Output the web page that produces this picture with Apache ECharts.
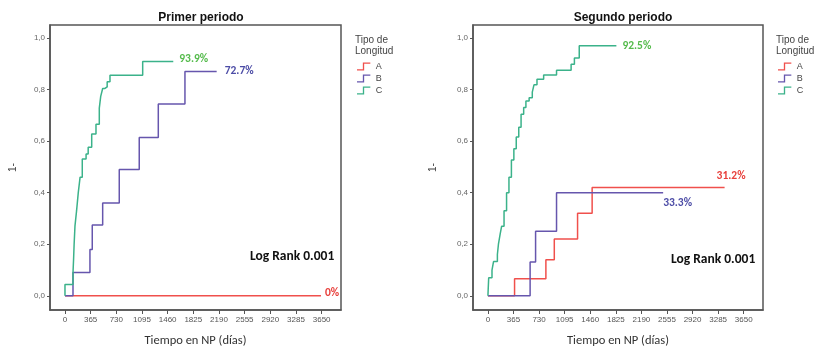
<!DOCTYPE html>
<html><head><meta charset="utf-8">
<script src="https://cdn.jsdelivr.net/npm/echarts@6/dist/echarts.min.js"></script>
<style>html,body{margin:0;padding:0;background:#fff}#c{width:839px;height:352px}</style>
</head><body><div id="c"></div>
<script>
// ---- data (time in days, cumulative proportion) ----
const xTicks = [0,365,730,1095,1460,1825,2190,2555,2920,3285,3650];
const yTicks = [0,0.2,0.4,0.6,0.8,1.0];
const titles = ['Primer periodo','Segundo periodo'];
const groups = ['A','B','C'];

// Primer periodo
const p1_A = [[0,0],[3640,0]];
const p1_B = [[0,0],[114,0.09],[355,0.18],[388,0.275],[536,0.36],[772,0.49],[1056,0.614],[1327,0.744],[1706,0.87],[2157,0.87]];
const p1_C = [[0,0],[0,0.044],[114,0.09],[122,0.14],[130,0.20],[142,0.27],[165,0.33],[189,0.40],[215,0.46],[246,0.53],[300,0.55],[330,0.576],[380,0.627],[441,0.665],[488,0.728],[508,0.773],[536,0.804],[569,0.81],[600,0.83],[640,0.855],[1105,0.908],[1540,0.908]];
const p1_labels = ['0%','72.7%','93.9%'];

// Segundo periodo
const p2_A = [[0,0],[380,0.066],[827,0.14],[947,0.22],[1279,0.32],[1487,0.42],[3377,0.42]];
const p2_B = [[0,0],[602,0.131],[680,0.25],[979,0.40],[2500,0.40]];
const p2_C = [[0,0],[11,0.07],[58,0.10],[80,0.133],[135,0.16],[150,0.20],[175,0.24],[196,0.27],[230,0.33],[266,0.40],[300,0.46],[335,0.527],[370,0.57],[404,0.616],[440,0.654],[473,0.704],[510,0.73],[542,0.755],[588,0.768],[633,0.79],[657,0.818],[700,0.84],[795,0.856],[979,0.875],[1187,0.898],[1234,0.922],[1303,0.97],[1833,0.97]];
const p2_labels = ['31.2%','33.3%','92.5%'];

const xName = 'Tiempo en NP (días)';
const yName = '1-';
const logRank = 'Log Rank 0.001';
const legendTitle = 'Tipo de\nLongitud';

// ---- styling ----
const lineColors = {A:'#f0504c', B:'#6656ad', C:'#3bb28a'};
const labelColors = {A:'#e8403c', B:'#4c4ca6', C:'#55bb4c'};
const FONT = 'Liberation Sans, Arial, sans-serif';
const CAL = 'Carlito, Calibri, Liberation Sans, sans-serif';

const grids = [
  {left:50, top:25, width:291, height:291},
  {left:473, top:25, width:290, height:291}
];

const chart = echarts.init(document.getElementById('c'));
const stepIcon = 'path://M0,8 L7,8 L7,0 L16,0 L16,1.6 L8.6,1.6 L8.6,9.6 L0,9.6 Z';

function xAxis(i){
  return {
    gridIndex:i, type:'value', min:-213, max:3925,
    name:xName, nameLocation:'middle', nameGap:24,
    nameTextStyle:{fontSize:12.5, color:'#333', fontFamily:CAL},
    axisLine:{show:true, onZero:false, lineStyle:{color:'#555', width:1.5}},
    axisTick:{show:true, customValues:xTicks, length:4, lineStyle:{color:'#555'}},
    axisLabel:{customValues:xTicks, fontSize:8, color:'#555', margin:6, fontFamily:FONT, formatter:v=>String(v)},
    splitLine:{show:false}
  };
}
function yAxis(i, gap){
  return {
    gridIndex:i, type:'value', min:-0.055, max:1.05,
    name:yName, nameLocation:'middle', nameGap:gap, nameRotate:90,
    nameTextStyle:{fontSize:10, color:'#444', fontFamily:FONT},
    axisLine:{show:true, onZero:false, lineStyle:{color:'#555', width:1.5}},
    axisTick:{show:true, customValues:yTicks, length:3, lineStyle:{color:'#555'}},
    axisLabel:{customValues:yTicks, fontSize:8, color:'#666', margin:5, fontFamily:FONT,
      formatter:v=>v.toFixed(1).replace('.',',')},
    splitLine:{show:false}
  };
}
function series(i, g, data, label, offset){
  return {
    name:g, type:'line', xAxisIndex:i, yAxisIndex:i, data:data, step:'end',
    symbol:'none', lineStyle:{color:lineColors[g], width:1.5}, itemStyle:{color:lineColors[g]},
    silent:true, animation:false,
    endLabel:{show:true, formatter:label, color:labelColors[g], fontWeight:'bold',
      fontSize:11.5, fontFamily:CAL, offset:offset, distance:4}
  };
}

const option = {
  backgroundColor:'#fff',
  animation:false,
  title:[
    {text:titles[0], left:196, top:7, textAlign:'center', textStyle:{fontSize:12, fontWeight:'bold', color:'#111', fontFamily:FONT}},
    {text:titles[1], left:618, top:7, textAlign:'center', textStyle:{fontSize:12, fontWeight:'bold', color:'#111', fontFamily:FONT}},
    {text:legendTitle, left:350, top:30, textStyle:{fontSize:10, fontWeight:'normal', color:'#444', lineHeight:11, fontFamily:FONT}},
    {text:legendTitle, left:771, top:30, textStyle:{fontSize:10, fontWeight:'normal', color:'#444', lineHeight:11, fontFamily:FONT}}
  ],
  legend:[
    {data:groups, left:352, top:57, orient:'vertical', itemWidth:14, itemHeight:8, itemGap:3, icon:stepIcon,
      textStyle:{fontSize:9, color:'#444', fontFamily:FONT}, selectedMode:false},
    {data:groups, left:773, top:57, orient:'vertical', itemWidth:14, itemHeight:8, itemGap:3, icon:stepIcon,
      textStyle:{fontSize:9, color:'#444', fontFamily:FONT}, selectedMode:false}
  ],
  grid:grids.map(g=>Object.assign({show:true, borderColor:'#555', borderWidth:1.5, backgroundColor:'#fff'}, g)),
  xAxis:[xAxis(0), xAxis(1)],
  yAxis:[yAxis(0,32), yAxis(1,35)],
  graphic:[
    {type:'text', left:250, top:250, style:{text:logRank, fill:'#111', font:'bold 13.5px Carlito, Calibri, Liberation Sans, sans-serif'}},
    {type:'text', left:671, top:253, style:{text:logRank, fill:'#111', font:'bold 13.5px Carlito, Calibri, Liberation Sans, sans-serif'}}
  ],
  series:[
    series(0,'A',p1_A,p1_labels[0],[0,-3]),
    series(0,'B',p1_B,p1_labels[1],[4,0]),
    series(0,'C',p1_C,p1_labels[2],[2,-2]),
    series(1,'A',p2_A,p2_labels[0],[-12,-11]),
    series(1,'B',p2_B,p2_labels[1],[-4,10]),
    series(1,'C',p2_C,p2_labels[2],[2,0])
  ]
};
chart.setOption(option);
</script></body></html>
